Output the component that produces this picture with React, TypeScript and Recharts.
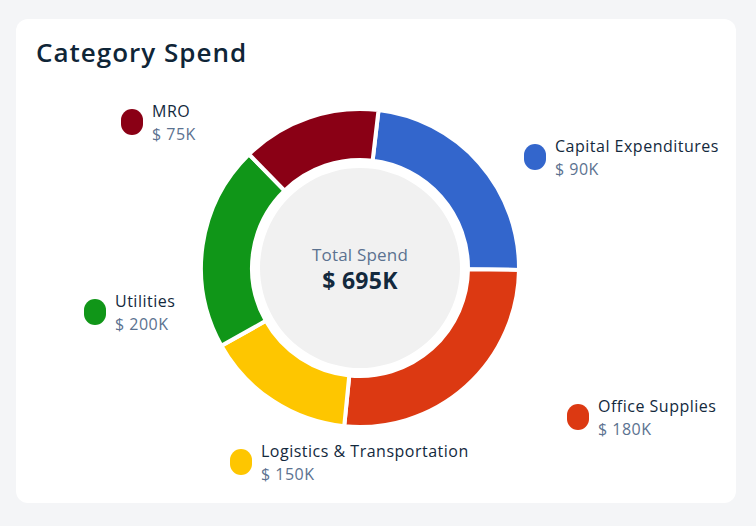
import { Cell, Pie, PieChart } from 'recharts'

const CATEGORIES = [
  'Capital Expenditures',
  'Office Supplies',
  'Logistics & Transportation',
  'Utilities',
  'MRO',
]
// spend shown in the labels, $K
const SPEND = [90, 180, 150, 200, 75]
// arc sizes as drawn on the ring (they are not proportional to spend)
const SHARE = [84, 95, 55, 75, 51]
const COLORS = ['#3366cc', '#dc3912', '#fec600', '#109618', '#8a0015']
const TOTAL_LABEL = 'Total Spend'
const TOTAL_VALUE = '$ 695K'

// label placement, marker left edge / centre relative to the pie centre
const LABEL_OFFSETS = [
  [164, -111],
  [207, 149],
  [-130, 194],
  [-276, 44],
  [-239, -146],
]

const FONT = '"Open Sans", sans-serif'
const DARK = '#13293d'
const MUTED = '#5b7290'

const data = CATEGORIES.map((name, i) => ({
  name,
  spend: SPEND[i],
  share: SHARE[i],
}))

const renderLabel = (props: any) => {
  const { cx, cy, index } = props
  const [dx, dy] = LABEL_OFFSETS[index]
  const x = cx + dx
  const y = cy + dy
  return (
    <g>
      <rect x={x} y={y - 13} width={22} height={26} rx={11} fill={COLORS[index]} />
      <text
        x={x + 31}
        y={y - 5}
        fill={DARK}
        fontSize={16}
        fontWeight={500}
        letterSpacing={0.5}
        fontFamily={FONT}
      >
        {CATEGORIES[index]}
      </text>
      <text x={x + 31} y={y + 18} fill={MUTED} fontSize={16} letterSpacing={0.5} fontFamily={FONT}>
        {`$ ${SPEND[index]}K`}
      </text>
    </g>
  )
}

const renderCenter = (props: any) => {
  const { cx, cy } = props
  return (
    <g>
      <text
        x={cx}
        y={cy - 7}
        textAnchor="middle"
        fill={MUTED}
        fontSize={17}
        letterSpacing={0.2}
        fontFamily={FONT}
      >
        {TOTAL_LABEL}
      </text>
      <text
        x={cx}
        y={cy + 21}
        textAnchor="middle"
        fill={DARK}
        fontSize={23}
        fontWeight={700}
        letterSpacing={0.3}
        fontFamily={FONT}
      >
        {TOTAL_VALUE}
      </text>
    </g>
  )
}

export default function App() {
  return (
    <div style={{ position: 'relative', width: 756, height: 526, background: '#f4f5f7', fontFamily: FONT }}>
      <style>{'body{margin:0}'}</style>
      <div
        style={{
          position: 'absolute',
          left: 16,
          top: 19,
          width: 720,
          height: 484,
          background: '#fff',
          borderRadius: 12,
        }}
      />
      <div
        style={{
          position: 'absolute',
          left: 36,
          top: 39,
          fontSize: 26,
          lineHeight: 1,
          fontWeight: 600,
          letterSpacing: 1,
          color: '#0f2537',
        }}
      >
        Category Spend
      </div>
      <div style={{ position: 'absolute', left: 0, top: 0 }}>
        <PieChart width={756} height={526} margin={{ top: 0, right: 0, bottom: 0, left: 0 }}>
          <Pie
            data={[{ v: 1 }]}
            dataKey="v"
            cx={360}
            cy={268}
            innerRadius={0}
            outerRadius={100}
            fill="#f1f1f1"
            stroke="none"
            label={renderCenter}
            labelLine={false}
            isAnimationActive={false}
          />
          <Pie
            data={data}
            dataKey="share"
            nameKey="name"
            cx={360}
            cy={268}
            innerRadius={108}
            outerRadius={159}
            startAngle={83.3}
            endAngle={-276.7}
            stroke="#fff"
            strokeWidth={4}
            label={renderLabel}
            labelLine={false}
            isAnimationActive={false}
          >
            {data.map((d, i) => (
              <Cell key={d.name} fill={COLORS[i]} />
            ))}
          </Pie>
        </PieChart>
      </div>
    </div>
  )
}
